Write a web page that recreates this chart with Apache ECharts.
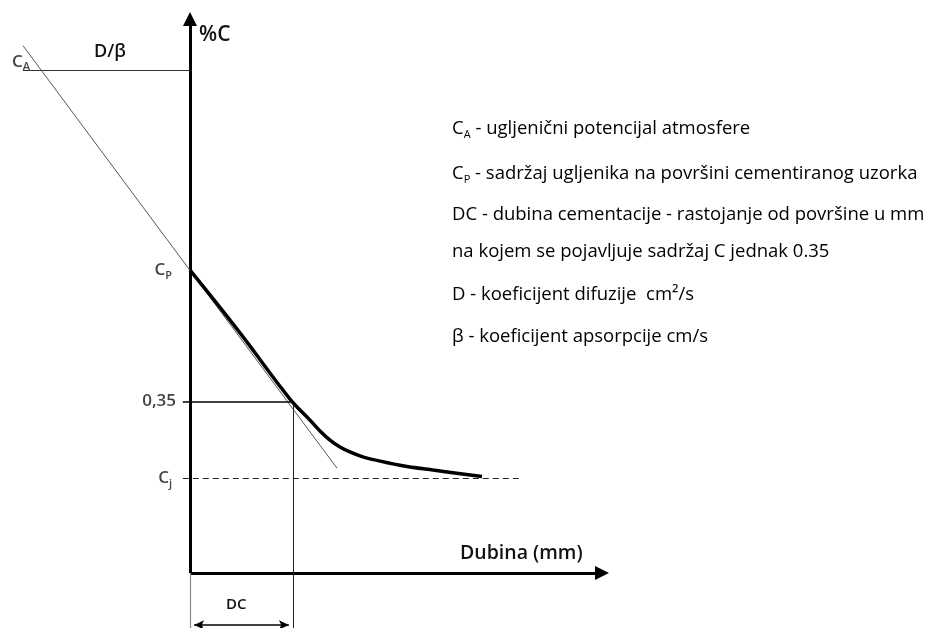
<!DOCTYPE html>
<html>
<head>
<meta charset="utf-8">
<script src="https://cdn.jsdelivr.net/npm/echarts@6/dist/echarts.min.js"></script>
<style>
  html, body { margin: 0; padding: 0; background: #fff; }
  #chart { width: 935px; height: 628px; }
</style>
</head>
<body>
<div id="chart"></div>
<script>
// characteristic levels (%C) and depth (DC = 1 unit of depth)
const CA = 1.027
const CP = 0.618
const C035 = 0.35
const CJ = 0.194
const DC = 1.0

// carbon profile [depth, %C]
const profileX = [0, 0.485, 0.971, 1.165, 1.262, 1.359, 1.456, 1.553, 1.650, 1.748, 2.039, 2.359, 2.835]
const profileY = [0.618, 0.490, 0.355, 0.312, 0.290, 0.271, 0.257, 0.247, 0.239, 0.233, 0.220, 0.210, 0.197]

// tangent line at the surface
const tangentX = [-1.621, 1.427]
const tangentY = [1.076, 0.214]

const legendLines = [
  ['C', 'A', ' - ugljenični potencijal atmosfere'],
  ['C', 'P', ' - sadržaj ugljenika na površini cementiranog uzorka'],
  ['', '', 'DC - dubina cementacije - rastojanje od površine u mm'],
  ['', '', 'na kojem se pojavljuje sadržaj C jednak 0.35'],
  ['', '', 'D - koeficijent difuzije  cm²/s'],
  ['', '', 'β - koeficijent apsorpcije cm/s']
]

// pixel layout of the origin and scales
const W = 935, H = 628
const ox = 190, oy = 573
const pxX = 103, pxY = 490
const xMin = -ox / pxX, xMax = (W - ox) / pxX
const yMin = -(H - oy) / pxY, yMax = oy / pxY

const font = 'Open Sans'
const chart = echarts.init(document.getElementById('chart'))

const seg = (a, b, style, sym) => ([
  { coord: a, symbol: sym ? sym[0] : 'none', symbolSize: sym ? sym[2] : 0, lineStyle: style },
  { coord: b, symbol: sym ? sym[1] : 'none', symbolSize: sym ? sym[2] : 0 }
])

const thin = { color: '#333', width: 1.2, type: 'solid' }
const axisStyle = { color: '#000', width: 3, type: 'solid' }

const sub = (big, small) => small ? `{b|${big}}{s|${small}}` : `{b|${big}}`

const richBase = {
  b: { fontFamily: font, fontSize: 17, color: '#111', fontWeight: 600 },
  s: { fontFamily: font, fontSize: 11, color: '#111', fontWeight: 600, verticalAlign: 'bottom', padding: [11, 0, 0, 0] }
}

const legendRich = {
  b: { fontFamily: font, fontSize: 18.5, color: '#111' },
  s: { fontFamily: font, fontSize: 11, color: '#111', padding: [12, 0, 0, 0] }
}
const legendTop = [119, 164, 205, 242, 285, 327]

const option = {
  animation: false,
  grid: { left: 0, right: 0, top: 0, bottom: 0 },
  xAxis: { type: 'value', min: xMin, max: xMax, show: false },
  yAxis: { type: 'value', min: yMin, max: yMax, show: false },
  series: [
    {
      type: 'line',
      data: [],
      silent: true,
      markLine: {
        silent: true,
        label: { show: false },
        data: [
          // axes with arrow heads
          seg([0, 0], [0, (oy - 19) / pxY], axisStyle, ['none', 'triangle', [14, 14]]),
          seg([0, 0], [(602 - ox) / pxX, 0], axisStyle, ['none', 'triangle', [14, 14]]),
          // gray continuation below origin
          seg([0, 0], [0, yMin], { color: '#888', width: 1.2, type: 'solid' }),
          // CA level and D/beta
          seg([tangentX[0], CA], [0, CA], thin),
          // tangent
          seg([tangentX[0], tangentY[0]], [tangentX[1], tangentY[1]], { color: '#555', width: 1, type: 'solid' }),
          // 0.35 level
          seg([-0.07, C035], [DC, C035], { color: '#000', width: 1.5, type: 'solid' }),
          // DC vertical
          seg([DC, C035], [DC, yMin], { color: '#222', width: 1, type: 'solid' }),
          // Cj dashed
          seg([-0.07, CJ], [(520 - ox) / pxX, CJ], { color: '#222', width: 1.2, type: [6, 4] }),
          // DC dimension arrow
          seg([0.04, (oy - 625) / pxY], [DC - 0.04, (oy - 625) / pxY], { color: '#000', width: 1.5, type: 'solid' }, ['arrow', 'arrow', [7, 10]])
        ]
      }
    },
    {
      name: 'profil',
      type: 'line',
      smooth: 0.4,
      symbol: 'none',
      lineStyle: { color: '#000', width: 3.5 },
      data: profileX.map((x, i) => [x, profileY[i]]),
      z: 5
    },
    {
      // level labels on the %C axis
      type: 'scatter',
      symbolSize: 0,
      data: [[0, CA], [0, CP], [0, C035], [0, CJ]].map((d, i) => ({
        value: d,
        label: {
          show: true,
          position: 'left',
          distance: i === 0 ? 160 : (i === 2 ? 14 : 18),
          offset: i === 0 ? [0, -8] : [0, 0],
          formatter: i === 0 ? sub('C', 'A') : i === 1 ? sub('C', 'P') : i === 2 ? sub('0,35') : sub('C', 'j'),
          rich: richBase
        }
      }))
    }
  ],
  graphic: [
    { type: 'text', left: 94, top: 43, style: { text: 'D/β', font: `600 18px "${font}"`, fill: '#111' } },
    { type: 'text', left: 199, top: 25, style: { text: '%C', font: `600 21px "${font}"`, fill: '#111' } },
    { type: 'text', left: 460, top: 543, style: { text: 'Dubina (mm)', font: `600 19.5px "${font}"`, fill: '#111' } },
    { type: 'text', left: 226, top: 597, style: { text: 'DC', font: `600 15px "${font}"`, fill: '#111' } }
  ].concat(legendLines.map((l, i) => ({
    type: 'text',
    left: 452,
    top: legendTop[i],
    style: {
      text: (l[0] ? `{b|${l[0]}}{s|${l[1]}}` : '') + `{b|${l[2]}}`,
      rich: legendRich
    }
  })))
}

chart.setOption(option)
</script>
</body>
</html>
